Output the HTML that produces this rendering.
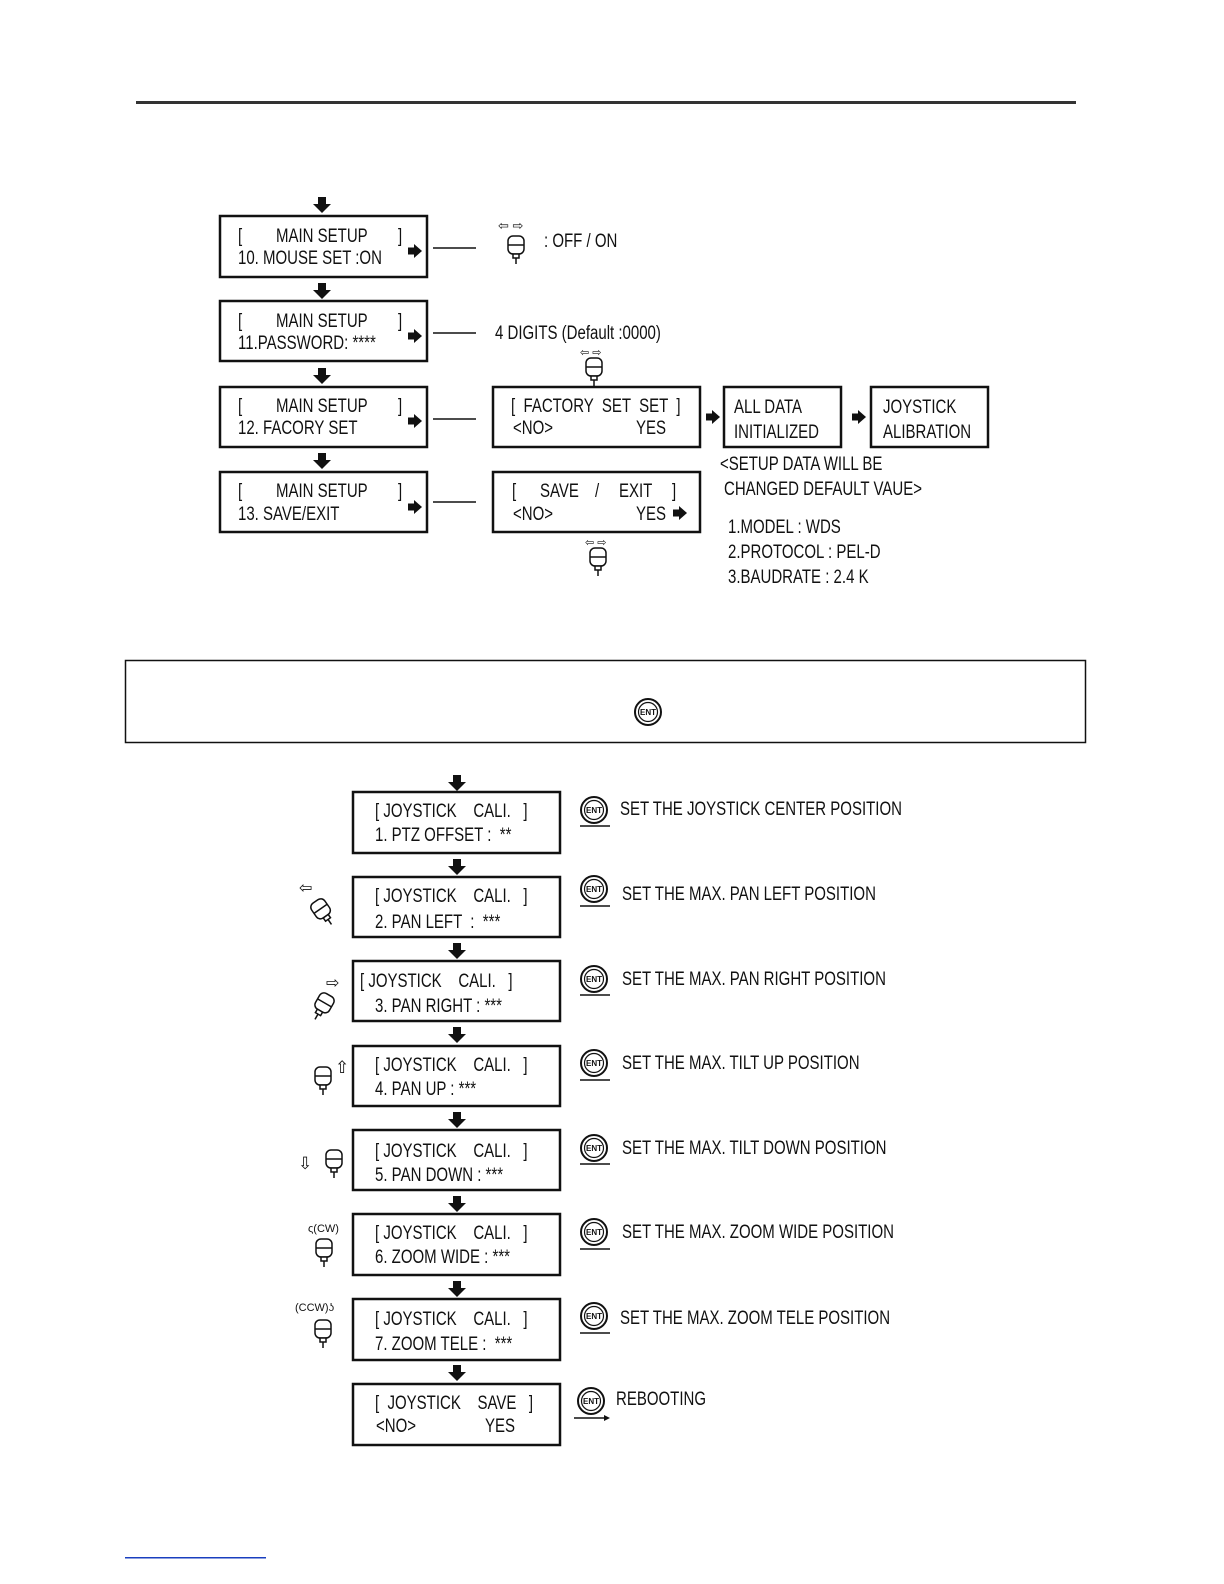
<!DOCTYPE html>
<html><head><meta charset="utf-8"><style>
html,body{margin:0;padding:0;background:#fff;overflow:hidden;width:1224px;height:1584px}
svg{display:block;position:absolute;left:0;top:0}
text{font-family:"Liberation Sans",sans-serif;font-size:19px;fill:#111;white-space:pre}
.b{fill:#fff;stroke:#111;stroke-width:2.5}
.l{stroke:#111;stroke-width:1.5}
</style></head><body>
<svg width="1224" height="1584" viewBox="0 0 1224 1584" xmlns="http://www.w3.org/2000/svg" xml:space="preserve">
<defs>
<g id="dn"><rect x="-4" y="0" width="8" height="8" fill="#111"/><polygon points="-9,7 9,7 0,16" fill="#111"/></g>
<g id="rt"><rect x="0" y="-3.5" width="7" height="7" fill="#111"/><polygon points="6,-7 6,7 14,0" fill="#111"/></g>
<g id="ent"><circle r="13" fill="#fff" stroke="#111" stroke-width="2"/><circle r="9.5" fill="none" stroke="#111" stroke-width="1.2"/><text class="n" x="0" y="3" text-anchor="middle" style="font-size:8px;font-weight:bold">ENT</text></g>
<g id="joy" fill="#fff" stroke="#111" stroke-width="1.5"><rect x="-8" y="-8" width="16" height="18" rx="5"/><line x1="-8" y1="1" x2="8" y2="1"/><rect x="-3" y="10" width="6" height="4"/><line x1="0" y1="14" x2="0" y2="20"/></g>
</defs>
<rect x="136" y="101" width="940" height="3" fill="#333"/>

<use href="#dn" x="322" y="197"/>
<rect class="b" x="220" y="216" width="207" height="61"/>
<text x="238" y="242">[</text><text x="276" y="242">MAIN SETUP</text><text x="398" y="242">]</text>
<text x="238" y="264">10. MOUSE SET :ON</text>
<use href="#rt" x="408" y="251"/>
<line class="l" x1="433" y1="248" x2="476" y2="248"/>
<use href="#joy" x="516" y="244"/>
<text class="n" x="498" y="230" style="font-size:13px">⇦ ⇨</text>
<text x="544" y="247">: OFF / ON</text>

<use href="#dn" x="322" y="283"/>
<rect class="b" x="220" y="301" width="207" height="60"/>
<text x="238" y="327">[</text><text x="276" y="327">MAIN SETUP</text><text x="398" y="327">]</text>
<text x="238" y="349">11.PASSWORD: ****</text>
<use href="#rt" x="408" y="336"/>
<line class="l" x1="433" y1="333" x2="476" y2="333"/>
<text x="495" y="339">4 DIGITS (Default :0000)</text>
<text class="n" x="580" y="356" style="font-size:11px">⇦ ⇨</text>
<use href="#joy" x="594" y="366"/>

<use href="#dn" x="322" y="368"/>
<rect class="b" x="220" y="387" width="207" height="60"/>
<text x="238" y="412">[</text><text x="276" y="412">MAIN SETUP</text><text x="398" y="412">]</text>
<text x="238" y="434">12. FACORY SET</text>
<use href="#rt" x="408" y="421"/>
<line class="l" x1="433" y1="419" x2="476" y2="419"/>
<rect class="b" x="493" y="387" width="207" height="60"/>
<text x="511" y="412">[  FACTORY  SET  SET  ]</text>
<text x="513" y="434">&lt;NO&gt;</text><text x="636" y="434">YES</text>
<use href="#rt" x="706" y="417"/>
<rect class="b" x="724" y="387" width="117" height="60"/>
<text x="734" y="413">ALL DATA</text><text x="734" y="438">INITIALIZED</text>
<use href="#rt" x="852" y="417"/>
<rect class="b" x="871" y="387" width="117" height="60"/>
<text x="883" y="413">JOYSTICK</text><text x="883" y="438">ALIBRATION</text>
<text x="720" y="470">&lt;SETUP DATA WILL BE</text>
<text x="724" y="495">CHANGED DEFAULT VAUE&gt;</text>
<text x="728" y="533">1.MODEL : WDS</text>
<text x="728" y="558">2.PROTOCOL : PEL-D</text>
<text x="728" y="583">3.BAUDRATE : 2.4 K</text>

<use href="#dn" x="322" y="453"/>
<rect class="b" x="220" y="472" width="207" height="60"/>
<text x="238" y="497">[</text><text x="276" y="497">MAIN SETUP</text><text x="398" y="497">]</text>
<text x="238" y="520">13. SAVE/EXIT</text>
<use href="#rt" x="408" y="507"/>
<line class="l" x1="433" y1="502" x2="476" y2="502"/>
<rect class="b" x="493" y="472" width="207" height="60"/>
<text x="512" y="497">[</text><text x="540" y="497">SAVE</text><text x="595" y="497">/</text><text x="619" y="497">EXIT</text><text x="672" y="497">]</text>
<text x="513" y="520">&lt;NO&gt;</text><text x="636" y="520">YES</text>
<use href="#rt" x="673" y="513"/>
<text class="n" x="585" y="546" style="font-size:11px">⇦ ⇨</text>
<use href="#joy" x="598" y="556"/>

<rect x="125.5" y="660.5" width="960" height="82" fill="#fff" stroke="#111" stroke-width="1.5"/>
<use href="#ent" x="648" y="712"/>

<use href="#dn" x="457" y="775"/>
<rect class="b" x="353" y="792" width="207" height="61"/>
<text x="375" y="817">[ JOYSTICK    CALI.   ]</text>
<text x="375" y="841">1. PTZ OFFSET :  **</text>
<use href="#ent" x="594" y="810"/><line class="l" x1="580" y1="826" x2="610" y2="826"/>
<text x="620" y="815">SET THE JOYSTICK CENTER POSITION</text>

<use href="#dn" x="457" y="859"/>
<rect class="b" x="353" y="877" width="207" height="60"/>
<text x="375" y="902">[ JOYSTICK    CALI.   ]</text>
<text x="375" y="928">2. PAN LEFT  :  ***</text>
<use href="#ent" x="594" y="889"/><line class="l" x1="580" y1="906" x2="610" y2="906"/>
<text x="622" y="900">SET THE MAX. PAN LEFT POSITION</text>
<text class="n" x="299" y="893" style="font-size:16px">⇦</text>
<use href="#joy" x="0" y="0" transform="translate(320 908) rotate(-35)"/>

<use href="#dn" x="457" y="943"/>
<rect class="b" x="353" y="961" width="207" height="60"/>
<text x="360" y="987">[ JOYSTICK    CALI.   ]</text>
<text x="375" y="1012">3. PAN RIGHT : ***</text>
<use href="#ent" x="594" y="979"/><line class="l" x1="580" y1="995" x2="610" y2="995"/>
<text x="622" y="985">SET THE MAX. PAN RIGHT POSITION</text>
<text class="n" x="326" y="988" style="font-size:16px">⇨</text>
<use href="#joy" x="0" y="0" transform="translate(325 1002) rotate(30)"/>

<use href="#dn" x="457" y="1027"/>
<rect class="b" x="353" y="1046" width="207" height="60"/>
<text x="375" y="1071">[ JOYSTICK    CALI.   ]</text>
<text x="375" y="1095">4. PAN UP : ***</text>
<use href="#ent" x="594" y="1063"/><line class="l" x1="580" y1="1080" x2="610" y2="1080"/>
<text x="622" y="1069">SET THE MAX. TILT UP POSITION</text>
<use href="#joy" x="323" y="1075"/><text class="n" x="335" y="1073" style="font-size:17px">⇧</text>

<use href="#dn" x="457" y="1112"/>
<rect class="b" x="353" y="1130" width="207" height="60"/>
<text x="375" y="1157">[ JOYSTICK    CALI.   ]</text>
<text x="375" y="1181">5. PAN DOWN : ***</text>
<use href="#ent" x="594" y="1148"/><line class="l" x1="580" y1="1164" x2="610" y2="1164"/>
<text x="622" y="1154">SET THE MAX. TILT DOWN POSITION</text>
<text class="n" x="298" y="1169" style="font-size:17px">⇩</text><use href="#joy" x="334" y="1158"/>

<use href="#dn" x="457" y="1196"/>
<rect class="b" x="353" y="1214" width="207" height="61"/>
<text x="375" y="1239">[ JOYSTICK    CALI.   ]</text>
<text x="375" y="1263">6. ZOOM WIDE : ***</text>
<use href="#ent" x="594" y="1232"/><line class="l" x1="580" y1="1249" x2="610" y2="1249"/>
<text x="622" y="1238">SET THE MAX. ZOOM WIDE POSITION</text>
<text class="n" x="308" y="1232" style="font-size:11px">ς(CW)</text><use href="#joy" x="324" y="1247"/>

<use href="#dn" x="457" y="1281"/>
<rect class="b" x="353" y="1299" width="207" height="61"/>
<text x="375" y="1325">[ JOYSTICK    CALI.   ]</text>
<text x="375" y="1350">7. ZOOM TELE :  ***</text>
<use href="#ent" x="594" y="1316"/><line class="l" x1="580" y1="1333" x2="610" y2="1333"/>
<text x="620" y="1324">SET THE MAX. ZOOM TELE POSITION</text>
<text class="n" x="295" y="1311" style="font-size:11px">(CCW)ʖ</text><use href="#joy" x="323" y="1328"/>

<use href="#dn" x="457" y="1365"/>
<rect class="b" x="353" y="1384" width="207" height="61"/>
<text x="375" y="1409">[  JOYSTICK    SAVE   ]</text>
<text x="376" y="1432">&lt;NO&gt;</text><text x="485" y="1432">YES</text>
<use href="#ent" x="591" y="1401"/>
<line class="l" x1="574" y1="1418" x2="605" y2="1418"/><polygon points="604,1415 610,1418 604,1421" fill="#111"/>
<text x="616" y="1405">REBOOTING</text>

<rect x="125" y="1557" width="141" height="1.5" fill="#1a3fbf"/>
</svg>
<script>
document.querySelectorAll('svg > text:not(.n)').forEach(function(t){
  var x=parseFloat(t.getAttribute('x'));
  t.setAttribute('transform','translate('+x+' 0) scale(0.79 1) translate('+(-x)+' 0)');
});
</script>
</body></html>
